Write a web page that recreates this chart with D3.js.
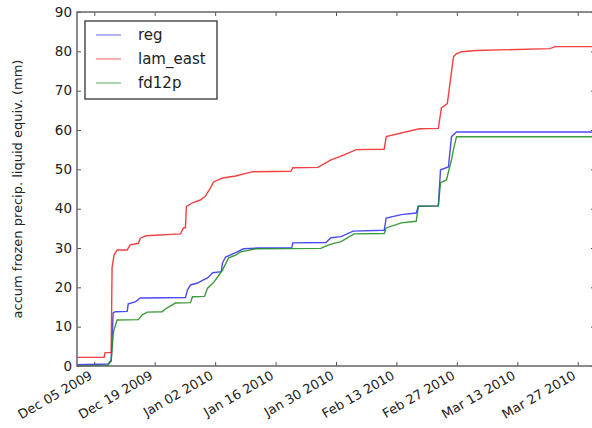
<!DOCTYPE html>
<html>
<head>
	<title>accum frozen precip</title>
	<style>
		body { margin: 0; background-color: white; }
		text { font-family: "DejaVu Sans", sans-serif; fill: #222; }
	</style>
</head>
<body>

<div id="dataviz"></div>

<script src="https://d3js.org/d3.v7.min.js"></script>
<script>

	// series: [time, accumulated mm]
	var regData = [
		["2009-12-01 00", 0.3], ["2009-12-08 05", 0.5], ["2009-12-08 22", 1.5],
		["2009-12-09 09", 13.5], ["2009-12-09 20", 13.8], ["2009-12-12 15", 13.9],
		["2009-12-12 21", 15.8], ["2009-12-14 12", 16.3], ["2009-12-15 16", 17.3],
		["2009-12-26 03", 17.4], ["2009-12-26 14", 19.3], ["2009-12-27 07", 20.6],
		["2009-12-28 22", 21.1], ["2009-12-30 07", 21.9], ["2009-12-31 06", 22.4],
		["2010-01-01 10", 23.7], ["2010-01-03 10", 24.0], ["2010-01-03 17", 26.2],
		["2010-01-04 10", 27.7], ["2010-01-06 18", 28.8], ["2010-01-08 14", 29.8],
		["2010-01-11 21", 30.0], ["2010-01-19 18", 30.1], ["2010-01-20 00", 31.3],
		["2010-01-27 16", 31.4], ["2010-01-28 20", 32.6], ["2010-01-31 04", 32.9],
		["2010-02-02 23", 34.3], ["2010-02-10 04", 34.5], ["2010-02-10 15", 37.6],
		["2010-02-14 03", 38.5], ["2010-02-17 14", 38.9], ["2010-02-18 02", 40.6],
		["2010-02-22 17", 40.7], ["2010-02-23 05", 49.9], ["2010-02-25 01", 50.6],
		["2010-02-25 18", 58.3], ["2010-02-26 22", 59.5], ["2010-03-31 00", 59.5]
	];

	var lamEastData = [
		["2009-12-01 00", 2.2], ["2009-12-07 07", 2.2], ["2009-12-07 12", 3.4],
		["2009-12-08 22", 3.4], ["2009-12-09 03", 25.0], ["2009-12-09 14", 28.2],
		["2009-12-10 07", 29.5], ["2009-12-12 15", 29.5], ["2009-12-13 08", 30.8],
		["2009-12-15 05", 31.2], ["2009-12-15 16", 32.5], ["2009-12-17 01", 33.1],
		["2009-12-24 23", 33.6], ["2009-12-25 16", 35.1], ["2009-12-26 03", 35.2],
		["2009-12-26 08", 40.5], ["2009-12-27 18", 41.5], ["2009-12-29 14", 42.2],
		["2009-12-30 18", 43.2], ["2009-12-31 22", 45.3], ["2010-01-01 15", 46.8],
		["2010-01-03 17", 47.8], ["2010-01-06 18", 48.3], ["2010-01-10 17", 49.4],
		["2010-01-19 13", 49.5], ["2010-01-20 00", 50.4], ["2010-01-25 19", 50.5],
		["2010-01-28 20", 52.4], ["2010-01-31 21", 53.7], ["2010-02-03 16", 55.0],
		["2010-02-10 04", 55.1], ["2010-02-10 15", 58.3], ["2010-02-18 07", 60.3],
		["2010-02-22 17", 60.4], ["2010-02-23 10", 65.6], ["2010-02-24 19", 66.7],
		["2010-02-26 05", 78.6], ["2010-02-26 22", 79.4], ["2010-02-28 02", 79.9],
		["2010-03-03 13", 80.2], ["2010-03-20 13", 80.7], ["2010-03-21 17", 81.2],
		["2010-03-31 00", 81.2]
	];

	var fd12pData = [
		["2009-12-01 00", 0.0], ["2009-12-08 05", 0.2], ["2009-12-08 16", 1.0],
		["2009-12-08 22", 1.2], ["2009-12-09 09", 7.9], ["2009-12-09 14", 9.2],
		["2009-12-10 07", 11.7], ["2009-12-15 05", 11.8], ["2009-12-16 03", 13.0],
		["2009-12-17 07", 13.7], ["2009-12-20 18", 13.8], ["2009-12-21 11", 14.5],
		["2009-12-23 19", 16.0], ["2009-12-27 07", 16.1], ["2009-12-27 18", 17.6],
		["2009-12-30 13", 17.7], ["2009-12-31 06", 19.8], ["2010-01-01 15", 21.2],
		["2010-01-03 17", 24.4], ["2010-01-05 03", 27.5], ["2010-01-06 18", 28.2],
		["2010-01-07 22", 29.0], ["2010-01-11 10", 29.8], ["2010-01-26 12", 29.9],
		["2010-01-27 05", 30.3], ["2010-01-28 20", 31.0], ["2010-01-31 04", 31.6],
		["2010-02-03 05", 33.6], ["2010-02-10 04", 33.7], ["2010-02-10 15", 35.1],
		["2010-02-14 03", 36.4], ["2010-02-17 14", 36.8], ["2010-02-18 02", 40.6],
		["2010-02-22 17", 40.7], ["2010-02-23 05", 46.6], ["2010-02-24 14", 47.3],
		["2010-02-25 18", 52.4], ["2010-02-26 05", 55.0], ["2010-02-26 22", 58.3],
		["2010-03-31 00", 58.3]
	];

	var seriesNames = ["reg", "lam_east", "fd12p"];
	var seriesColors = ["#2b2bf0", "#f02020", "#1a8a1a"];

	var xTickDates = ["2009-12-05", "2009-12-19", "2010-01-02", "2010-01-16", "2010-01-30",
		"2010-02-13", "2010-02-27", "2010-03-13", "2010-03-27"];
	var xTickLabels = ["Dec 05 2009", "Dec 19 2009", "Jan 02 2010", "Jan 16 2010", "Jan 30 2010",
		"Feb 13 2010", "Feb 27 2010", "Mar 13 2010", "Mar 27 2010"];
	var yTicks = [0, 10, 20, 30, 40, 50, 60, 70, 80, 90];

	var width = 592;
	var height = 428;
	var plotLeft = 77, plotRight = 595, plotTop = 12, plotBottom = 366;

	var parseTime = d3.utcParse("%Y-%m-%d %H");
	var parseDay = d3.utcParse("%Y-%m-%d");

	var svg = d3.select('#dataviz')
		.append('svg')
		.attr('width', width)
		.attr('height', height);

	var x = d3.scaleUtc()
		.domain([parseDay("2009-12-01"), parseDay("2010-03-31")])
		.range([plotLeft, plotRight]);

	var y = d3.scaleLinear()
		.domain([0, 90])
		.range([plotBottom, plotTop]);

	var line = d3.line()
		.x(function(d){ return x(parseTime(d[0])) })
		.y(function(d){ return y(d[1]) });

	// lines
	var allSeries = [regData, lamEastData, fd12pData];
	svg.selectAll('.series')
		.data(allSeries)
		.enter()
		.append('path')
		.attr('class', 'series')
		.attr('d', line)
		.attr('fill', 'none')
		.attr('stroke', function(d, i){ return seriesColors[i] })
		.attr('stroke-width', 1.4)
		.attr('stroke-opacity', 0.85);

	// axes, ticks pointing inward on all four sides
	var tickDates = xTickDates.map(function(d){ return parseDay(d) });

	svg.append('g')
		.attr('transform', 'translate(0,' + plotBottom + ')')
		.call(d3.axisBottom(x).tickValues(tickDates).tickSize(-4).tickFormat(''));

	svg.append('g')
		.attr('transform', 'translate(0,' + plotTop + ')')
		.call(d3.axisTop(x).tickValues(tickDates).tickSize(-4).tickFormat(''));

	var yAxis = svg.append('g')
		.attr('transform', 'translate(' + plotLeft + ',0)')
		.call(d3.axisLeft(y).tickValues(yTicks).tickSize(-4).tickPadding(5));

	svg.append('g')
		.attr('transform', 'translate(' + plotRight + ',0)')
		.call(d3.axisRight(y).tickValues(yTicks).tickSize(-4).tickFormat(''));

	svg.selectAll('.domain').remove();
	svg.selectAll('.tick line').attr('stroke', '#555').attr('stroke-width', 1);

	yAxis.selectAll('text')
		.attr('font-size', 13.5)
		.attr('fill', '#222')
		.attr('font-family', 'DejaVu Sans');

	// rotated date labels
	svg.selectAll('.xlabel')
		.data(tickDates)
		.enter()
		.append('text')
		.attr('class', 'xlabel')
		.attr('transform', function(d){ return 'translate(' + (x(d) - 1) + ',' + (plotBottom + 12) + ') rotate(-30)' })
		.attr('text-anchor', 'end')
		.attr('font-size', 13)
		.text(function(d, i){ return xTickLabels[i] });

	// frame
	svg.append('rect')
		.attr('x', plotLeft)
		.attr('y', plotTop)
		.attr('width', plotRight - plotLeft)
		.attr('height', plotBottom - plotTop)
		.attr('fill', 'none')
		.attr('stroke', '#666')
		.attr('stroke-width', 1.5);

	svg.append('text')
		.attr('transform', 'translate(22,' + ((plotTop + plotBottom) / 2) + ') rotate(-90)')
		.attr('text-anchor', 'middle')
		.attr('font-size', 13)
		.text('accum frozen precip. liquid equiv. (mm)');

	// legend
	var legend = svg.append('g');

	legend.append('rect')
		.attr('x', 85)
		.attr('y', 21)
		.attr('width', 132)
		.attr('height', 78)
		.attr('fill', 'white')
		.attr('stroke', '#333')
		.attr('stroke-width', 1.3);

	var items = legend.selectAll('.item')
		.data(seriesNames)
		.enter()
		.append('g')
		.attr('class', 'item')
		.attr('transform', function(d, i){ return 'translate(0,' + (35 + i * 24) + ')' });

	items.append('line')
		.attr('x1', 96)
		.attr('x2', 121)
		.attr('stroke', function(d, i){ return seriesColors[i] })
		.attr('stroke-width', 1.2)
		.attr('stroke-opacity', 0.6);

	items.append('text')
		.attr('x', 138)
		.attr('dy', '0.35em')
		.attr('font-size', 15)
		.text(function(d){ return d });

</script>

</body>
</html>
